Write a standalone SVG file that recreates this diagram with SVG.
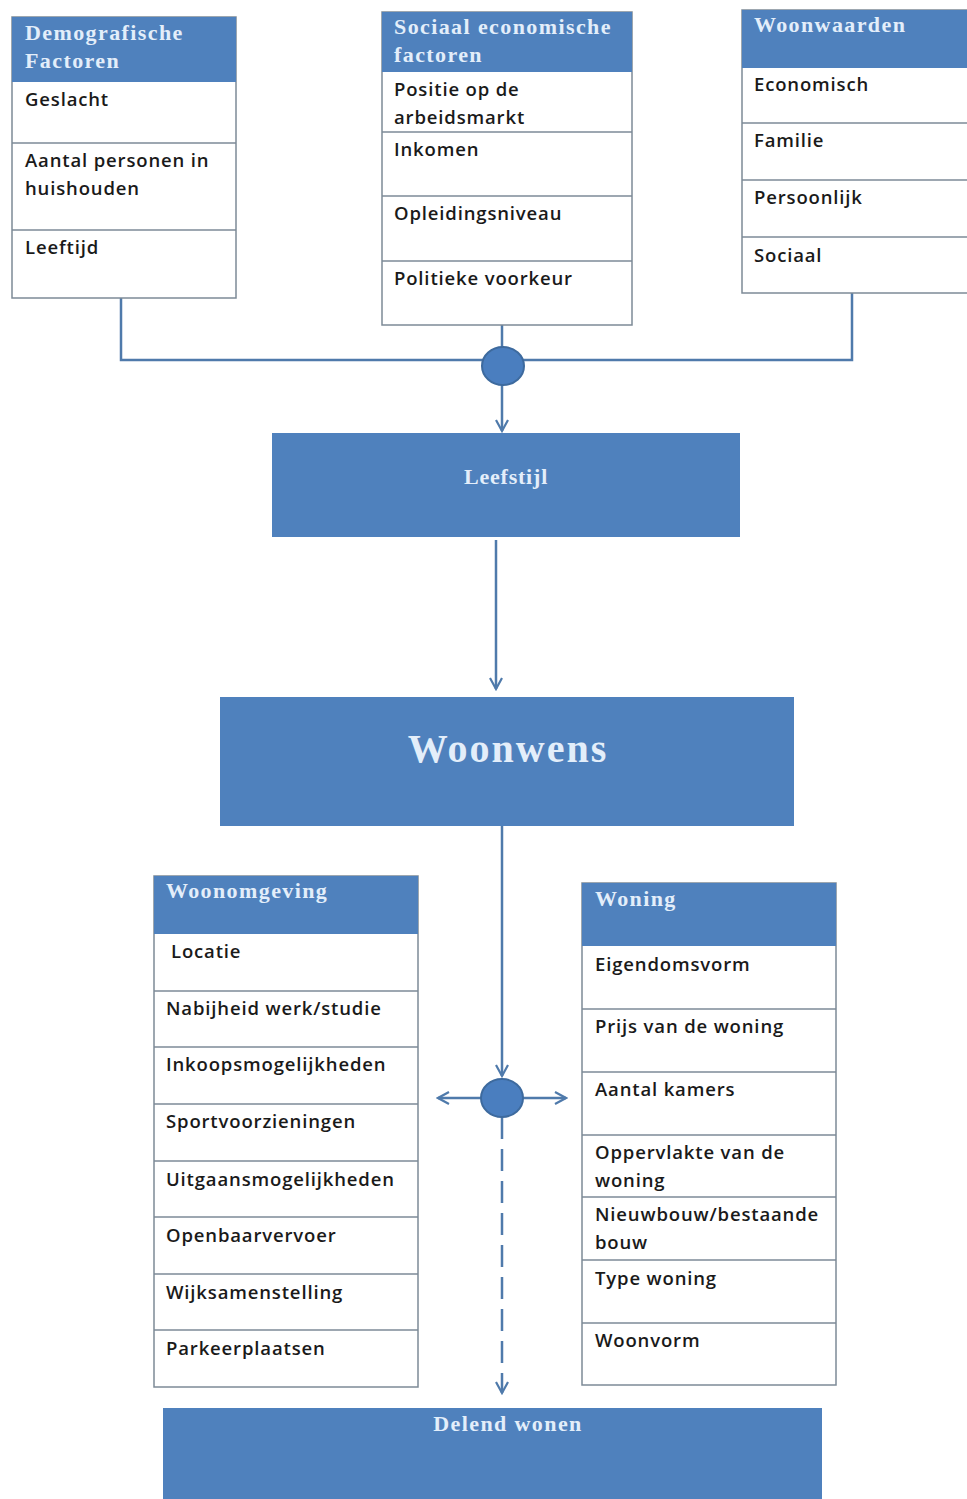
<svg xmlns="http://www.w3.org/2000/svg" width="967" height="1499" viewBox="0 0 967 1499">
<defs>
<style>
.box{fill:#ffffff;stroke:#7d8a97;stroke-width:1.5}
.hdr{fill:#4f81bd}
.div{stroke:#7d8a97;stroke-width:1.5}
.ht{font-family:"Liberation Serif","DejaVu Serif",serif;font-weight:bold;font-size:22px;letter-spacing:1.4px;fill:#e3eefa}
.bt{font-family:"Open Sans","Liberation Sans",Arial,sans-serif;font-weight:600;font-size:18.5px;letter-spacing:0.85px;fill:#1a1a1a}
.big{fill:#4f81bd}
.con{stroke:#4f7aab;stroke-width:2.5;fill:none}
.hub{fill:#4a7ebf;stroke:#3d6a9e;stroke-width:2}
</style>
<marker id="arr" viewBox="0 0 14 14" refX="12" refY="7" markerWidth="14" markerHeight="14" markerUnits="userSpaceOnUse" orient="auto">
<path d="M1,1 L12,7 L1,13" fill="none" stroke="#4f7aab" stroke-width="2.2"/>
</marker>
</defs>
<rect width="967" height="1499" fill="#ffffff"/>

<g id="connectors">
<path class="con" d="M121,298 V360 H852 V290"/>
<line class="con" x1="502" y1="325" x2="502" y2="347"/>
<line class="con" x1="502" y1="385" x2="502" y2="431" marker-end="url(#arr)"/>
<line class="con" x1="496" y1="540" x2="496" y2="689" marker-end="url(#arr)"/>
<line class="con" x1="502" y1="826" x2="502" y2="1076" marker-end="url(#arr)"/>
<line class="con" x1="481" y1="1098" x2="438" y2="1098" marker-end="url(#arr)"/>
<line class="con" x1="523" y1="1098" x2="566" y2="1098" marker-end="url(#arr)"/>
<line class="con" x1="502" y1="1117" x2="502" y2="1393" stroke-dasharray="22,10" marker-end="url(#arr)"/>
<ellipse class="hub" cx="503" cy="366" rx="21" ry="19"/>
<ellipse class="hub" cx="502" cy="1098" rx="21" ry="19"/>
</g>

<g id="demografische">
<rect class="box" x="12" y="17" width="224" height="281"/>
<rect class="hdr" x="12" y="17" width="224" height="65"/>
<text class="ht" x="25" y="40">Demografische</text>
<text class="ht" x="25" y="68">Factoren</text>
<line class="div" x1="12" y1="143" x2="236" y2="143"/>
<line class="div" x1="12" y1="230" x2="236" y2="230"/>
<text class="bt" x="25" y="106">Geslacht</text>
<text class="bt" x="25" y="167">Aantal personen in</text>
<text class="bt" x="25" y="195">huishouden</text>
<text class="bt" x="25" y="254">Leeftijd</text>
</g>

<g id="sociaal">
<rect class="box" x="382" y="12" width="250" height="313"/>
<rect class="hdr" x="382" y="12" width="250" height="60"/>
<text class="ht" x="394" y="34">Sociaal economische</text>
<text class="ht" x="394" y="62">factoren</text>
<line class="div" x1="382" y1="132" x2="632" y2="132"/>
<line class="div" x1="382" y1="196" x2="632" y2="196"/>
<line class="div" x1="382" y1="261" x2="632" y2="261"/>
<text class="bt" x="394" y="96">Positie op de</text>
<text class="bt" x="394" y="124">arbeidsmarkt</text>
<text class="bt" x="394" y="156">Inkomen</text>
<text class="bt" x="394" y="220">Opleidingsniveau</text>
<text class="bt" x="394" y="285">Politieke voorkeur</text>
</g>

<g id="woonwaarden">
<rect class="box" x="742" y="10" width="240" height="283"/>
<rect class="hdr" x="742" y="10" width="240" height="58"/>
<text class="ht" x="754" y="32">Woonwaarden</text>
<line class="div" x1="742" y1="123" x2="967" y2="123"/>
<line class="div" x1="742" y1="180" x2="967" y2="180"/>
<line class="div" x1="742" y1="237" x2="967" y2="237"/>
<text class="bt" x="754" y="91">Economisch</text>
<text class="bt" x="754" y="147">Familie</text>
<text class="bt" x="754" y="204">Persoonlijk</text>
<text class="bt" x="754" y="262">Sociaal</text>
</g>

<g id="leefstijl">
<rect class="big" x="272" y="433" width="468" height="104"/>
<text class="ht" x="506" y="484" text-anchor="middle" style="letter-spacing:0.8px">Leefstijl</text>
</g>

<g id="woonwens">
<rect class="big" x="220" y="697" width="574" height="129"/>
<text class="ht" x="508" y="762" text-anchor="middle" style="font-size:40px;letter-spacing:2px">Woonwens</text>
</g>

<g id="woonomgeving">
<rect class="box" x="154" y="876" width="264" height="511"/>
<rect class="hdr" x="154" y="876" width="264" height="58"/>
<text class="ht" x="166" y="898">Woonomgeving</text>
<line class="div" x1="154" y1="991" x2="418" y2="991"/>
<line class="div" x1="154" y1="1047" x2="418" y2="1047"/>
<line class="div" x1="154" y1="1104" x2="418" y2="1104"/>
<line class="div" x1="154" y1="1161" x2="418" y2="1161"/>
<line class="div" x1="154" y1="1217" x2="418" y2="1217"/>
<line class="div" x1="154" y1="1274" x2="418" y2="1274"/>
<line class="div" x1="154" y1="1330" x2="418" y2="1330"/>
<text class="bt" x="171" y="958">Locatie</text>
<text class="bt" x="166" y="1015">Nabijheid werk/studie</text>
<text class="bt" x="166" y="1071">Inkoopsmogelijkheden</text>
<text class="bt" x="166" y="1128">Sportvoorzieningen</text>
<text class="bt" x="166" y="1186">Uitgaansmogelijkheden</text>
<text class="bt" x="166" y="1242">Openbaarvervoer</text>
<text class="bt" x="166" y="1299">Wijksamenstelling</text>
<text class="bt" x="166" y="1355">Parkeerplaatsen</text>
</g>

<g id="woning">
<rect class="box" x="582" y="883" width="254" height="502"/>
<rect class="hdr" x="582" y="883" width="254" height="63"/>
<text class="ht" x="595" y="906">Woning</text>
<line class="div" x1="582" y1="1009" x2="836" y2="1009"/>
<line class="div" x1="582" y1="1072" x2="836" y2="1072"/>
<line class="div" x1="582" y1="1135" x2="836" y2="1135"/>
<line class="div" x1="582" y1="1197" x2="836" y2="1197"/>
<line class="div" x1="582" y1="1260" x2="836" y2="1260"/>
<line class="div" x1="582" y1="1323" x2="836" y2="1323"/>
<text class="bt" x="595" y="971">Eigendomsvorm</text>
<text class="bt" x="595" y="1033">Prijs van de woning</text>
<text class="bt" x="595" y="1096">Aantal kamers</text>
<text class="bt" x="595" y="1159">Oppervlakte van de</text>
<text class="bt" x="595" y="1187">woning</text>
<text class="bt" x="595" y="1221">Nieuwbouw/bestaande</text>
<text class="bt" x="595" y="1249">bouw</text>
<text class="bt" x="595" y="1285">Type woning</text>
<text class="bt" x="595" y="1347">Woonvorm</text>
</g>

<g id="delend">
<rect class="big" x="163" y="1408" width="659" height="91"/>
<text class="ht" x="508" y="1431" text-anchor="middle">Delend wonen</text>
</g>
</svg>
